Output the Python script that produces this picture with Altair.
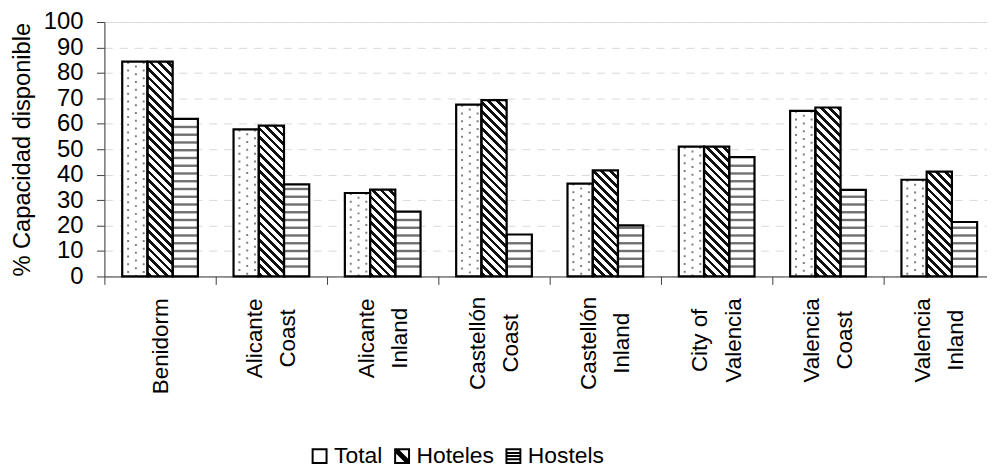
import altair as alt
import pandas as pd

# ---------------- data ----------------
regions = ["Benidorm", "Alicante Coast", "Alicante Inland", "Castellón Coast",
           "Castellón Inland", "City of Valencia", "Valencia Coast", "Valencia Inland"]
series = ["Total", "Hoteles", "Hostels"]
total = [84.4, 57.8, 32.8, 67.5, 36.5, 51.0, 65.1, 38.0]
hoteles = [84.4, 59.3, 34.1, 69.3, 41.7, 51.0, 66.4, 41.2]
hostels = [61.9, 36.2, 25.5, 16.5, 20.1, 46.9, 34.0, 21.4]

y_ticks = list(range(0, 101, 10))

# ---------------- layout constants ----------------
FONT = "Liberation Sans"
FS = 22.5
LINE_H = 33.5
RANGE_W = 896          # full band range (extends past the visible right edge)
VIEW_W = 888
VIEW_H = 256
PAD_INNER, PAD_OUTER = 0.32, 0.16
STEP = RANGE_W / (len(regions) - PAD_INNER + 2 * PAD_OUTER)
BAND_W = STEP * (1 - PAD_INNER)
BAR_W = BAND_W / 3
PX_PER_UNIT = VIEW_H / 100.0
GAP_HALF = STEP * PAD_INNER / 2

# label padding per category (centres of rotated label blocks)
label_pads = [61.8, 53.8, 53.8, 58.8, 58.8, 55.8, 55.8, 55.8]

rows = []
for s, vals in zip(series, [total, hoteles, hostels]):
    for r, v in zip(regions, vals):
        rows.append({"region": r, "series": s, "value": v})
df = pd.DataFrame(rows)

# dotted pattern (Total): three dashed columns per bar
dot_rows = []
for r, v in zip(regions, total):
    for c in ["d0", "d1", "d2"]:
        dot_rows.append({"region": r, "col": c, "value": v})
df_dots = pd.DataFrame(dot_rows)

# horizontal stripes (Hostels)
STRIPE_STEP = 7.8 / PX_PER_UNIT
stripe_rows = []
for r, v in zip(regions, hostels):
    k = 0
    while True:
        yv = 10.0 / PX_PER_UNIT + k * STRIPE_STEP
        if yv > v - 0.6:
            break
        stripe_rows.append({"region": r, "series": "Hostels", "value": yv})
        k += 1
df_stripes = pd.DataFrame(stripe_rows)


def diag_gradient(v, period=8.6, dark=3.8):
    w = BAR_W
    h = v * PX_PER_UNIT
    L = w + h * h / w
    stops = [{"offset": 0, "color": "white"}]
    s = 1.5
    while s < w + h:
        a = min(s / L, 1.0)
        b = min((s + dark) / L, 1.0)
        stops += [{"offset": a, "color": "white"}, {"offset": a, "color": "#111111"},
                  {"offset": b, "color": "#111111"}, {"offset": b, "color": "white"}]
        s += period
    stops.append({"offset": 1, "color": "white"})
    return {"gradient": "linear", "x1": 0, "y1": 1, "x2": 1, "y2": 1 - h / w, "stops": stops}


# ---------------- encodings ----------------
pad_conds = [{"test": f"datum.value == '{r}'", "value": p} for r, p in zip(regions, label_pads)]

x_axis = alt.Axis(
    title=None, labelAngle=270, labelAlign="center", labelBaseline="middle",
    bandPosition=0, tickOffset=-GAP_HALF,
    labelOffset={"condition": {"test": "datum.value == 'Benidorm'", "value": GAP_HALF},
                 "value": GAP_HALF - LINE_H / 2},
    tickSize=8,
    tickColor="#404040", domainColor="#404040", labelFontSize=FS, labelFont=FONT,
    labelColor="black", labelLineHeight=LINE_H,
    labelExpr="datum.label == 'City of Valencia' ? ['City of', 'Valencia'] : split(datum.label, ' ')",
    labelPadding={"condition": pad_conds, "value": 56},
    grid=False, labelOverlap=False,
)
y_axis = alt.Axis(
    title="% Capacidad disponible", values=y_ticks, tickSize=8, labelPadding=13.5,
    labelFontSize=24, labelFont=FONT, labelColor="black", titleFontSize=23.8,
    titleFont=FONT, titleFontWeight="normal", titleColor="black", titlePadding=9,
    grid=True, gridDash=[8, 7], gridColor="#d9d9d9", gridWidth=1,
    domainColor="#404040", tickColor="#404040",
)

x_enc = alt.X("region:N", sort=regions,
              scale=alt.Scale(domain=regions, range=[0, RANGE_W],
                              paddingInner=PAD_INNER, paddingOuter=PAD_OUTER),
              axis=x_axis)
y_enc = alt.Y("value:Q", scale=alt.Scale(domain=[0, 100], nice=False), axis=y_axis)
xoff_series = alt.XOffset("series:N", sort=series,
                          scale=alt.Scale(domain=series, paddingInner=0, paddingOuter=0))

base = alt.Chart(df)

white_bars = base.mark_bar(fill="white", strokeWidth=0).encode(
    x=x_enc, xOffset=xoff_series, y=y_enc)

dots_xoff = alt.XOffset("col:N", scale=alt.Scale(domain=["d0", "d1", "d2"], range=[2.0, 25.5],
                                                 paddingInner=0, paddingOuter=0))
dots_outer = alt.Chart(df_dots).transform_filter("datum.col != 'd1'").mark_rule(
    color="#808080", strokeWidth=2, strokeDash=[2, 5.8], strokeCap="butt").encode(
    x=x_enc, xOffset=dots_xoff, y=y_enc, y2=alt.datum(0))
dots_mid = alt.Chart(df_dots).transform_filter("datum.col == 'd1'").mark_rule(
    color="#808080", strokeWidth=2, strokeDash=[2, 5.8], strokeDashOffset=3.9,
    strokeCap="butt").encode(
    x=x_enc, xOffset=dots_xoff, y=y_enc, y2=alt.datum(0))

stripes = alt.Chart(df_stripes).mark_tick(
    orient="horizontal", size=BAR_W - 0.5, thickness=2.4, color="#333333").encode(
    x=x_enc, xOffset=xoff_series, y=y_enc)

diag_layers = []
for r, v in zip(regions, hoteles):
    diag_layers.append(
        base.transform_filter(f"datum.series == 'Hoteles' && datum.region == '{r}'")
        .mark_bar(fill=diag_gradient(v), strokeWidth=0)
        .encode(x=x_enc, xOffset=xoff_series, y=y_enc)
    )

outlines = base.mark_bar(fillOpacity=0, stroke="black", strokeWidth=2.2).encode(
    x=x_enc, xOffset=xoff_series, y=y_enc)

sym_square = "M-1,-1H1V1H-1Z"
sym_total = sym_square
sym_hoteles = sym_square + "M-1,-1L1,1M-0.7,-1L1,0.7M-1,-0.7L0.7,1"
sym_hostels = sym_square + "M-1,-0.45H1M-1,0H1M-1,0.45H1"

legend_layer = base.mark_point(opacity=0).encode(
    x=x_enc, y=y_enc,
    shape=alt.Shape("series:N", sort=series,
                    scale=alt.Scale(domain=series, range=[sym_total, sym_hoteles, sym_hostels]),
                    legend=alt.Legend(
                        orient="none", legendX=205, legendY=425, direction="horizontal",
                        title=None, symbolSize=196, symbolStrokeWidth=2,
                        symbolStrokeColor="black", symbolFillColor="white",
                        symbolOpacity=1, labelFontSize=23, labelFont=FONT,
                        labelColor="black", labelOffset=3, columnPadding=8, padding=0)))

chart = alt.layer(
    white_bars, dots_outer, dots_mid, stripes, *diag_layers, outlines, legend_layer
).resolve_scale(xOffset="independent").properties(
    width=VIEW_W, height=VIEW_H,
    autosize=alt.AutoSizeParams(type="none"),
    padding={"left": 97, "right": 0, "top": 12.7, "bottom": 190},
).configure_view(stroke=None).configure(font=FONT, background="white")

chart.save("out.html", embed_options={"renderer": "svg", "actions": False})
